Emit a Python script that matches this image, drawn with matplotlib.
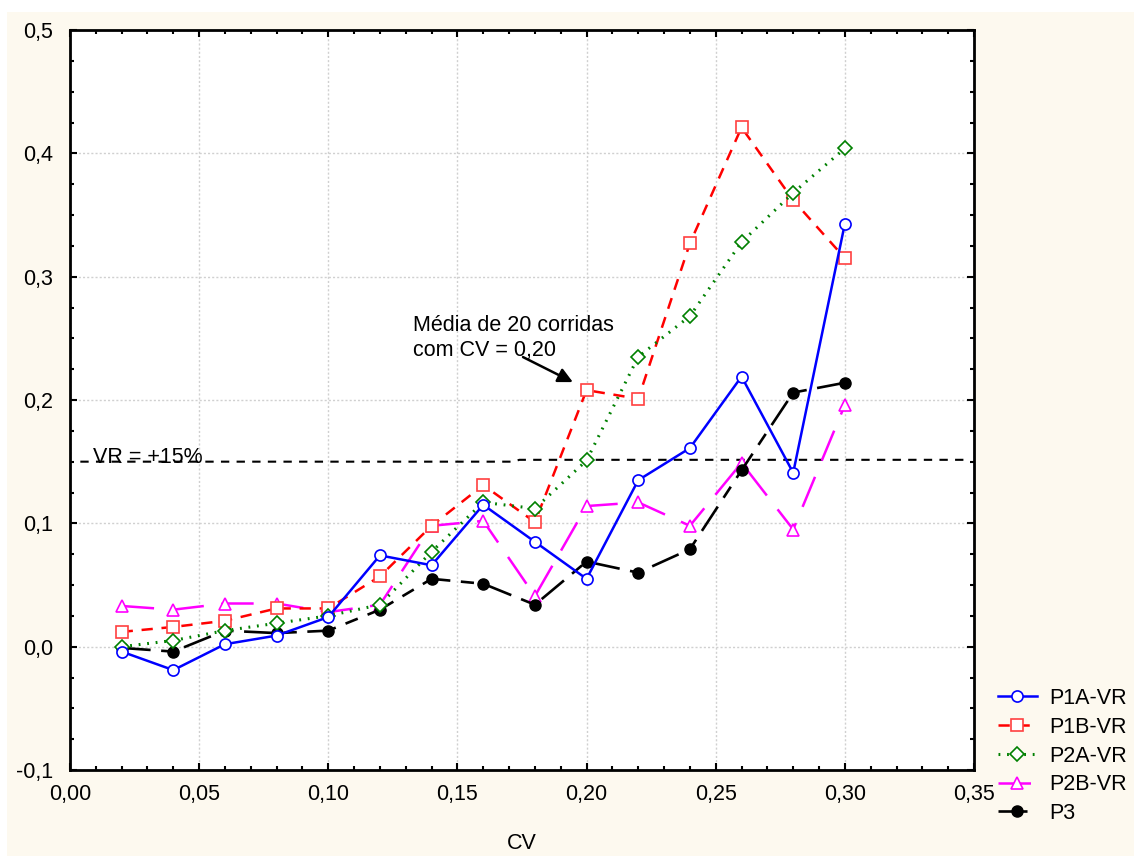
import matplotlib
matplotlib.use("Agg")
import matplotlib.pyplot as plt
from matplotlib.patches import Rectangle
from matplotlib.ticker import MultipleLocator, FuncFormatter

plt.rcParams['font.family'] = ['Liberation Sans', 'DejaVu Sans']

cv = [0.02, 0.04, 0.06, 0.08, 0.10, 0.12, 0.14, 0.16, 0.18, 0.20, 0.22, 0.24, 0.26, 0.28, 0.30]
p1a = [-0.004, -0.019, 0.002, 0.009, 0.024, 0.074, 0.066, 0.115, 0.085, 0.055, 0.135, 0.161, 0.219, 0.141, 0.343]
p1b = [0.012, 0.016, 0.021, 0.031, 0.031, 0.057, 0.098, 0.131, 0.101, 0.208, 0.201, 0.327, 0.421, 0.362, 0.315]
p2a = [0.000, 0.005, 0.013, 0.019, 0.025, 0.034, 0.077, 0.117, 0.112, 0.151, 0.235, 0.268, 0.328, 0.368, 0.404]
p2b = [0.033, 0.030, 0.035, 0.035, 0.028, 0.034, 0.098, 0.102, 0.041, 0.114, 0.117, 0.098, 0.149, 0.095, 0.196]
p3 = [-0.001, -0.004, 0.013, 0.011, 0.013, 0.030, 0.055, 0.051, 0.034, 0.069, 0.060, 0.079, 0.143, 0.206, 0.214]

vr_x = [0.004, 0.1715, 0.174, 0.348]
vr_y = [0.150, 0.150, 0.1515, 0.1515]

labels = ["P1A-VR", "P1B-VR", "P2A-VR", "P2B-VR", "P3"]

W, H = 1134, 856
fig = plt.figure(figsize=(W / 100, H / 100), dpi=100, facecolor='white')
cream = '#FDF9EF'
fig.patches.append(Rectangle((7 / W, 0), 1 - 7 / W, 1 - 12 / H, transform=fig.transFigure,
                             facecolor=cream, edgecolor='none', zorder=-10))

ax = fig.add_axes([70 / W, 1 - 770 / H, (974 - 70) / W, (770 - 30) / H])
ax.set_facecolor('white')

fs = 15.5
ax.plot(cv, p1a, color='#0000FF', lw=1.8, marker='o', ms=8, mfc='white', mec='#0000FF',
        mew=1.2, label=labels[0], zorder=5)
ax.plot(cv, p1b, color='#FF0000', lw=1.8, ls=(0, (4.5, 3.5)), marker='s', ms=9, mfc='white',
        mec='#FF4040', mew=1.2, label=labels[1], zorder=4)
ax.plot(cv, p2a, color='#008000', lw=2.2, ls=(0, (0.6, 2.2)), marker='D', ms=7, mfc='white',
        mec='#008000', mew=1.2, label=labels[2], zorder=4)
ax.plot(cv, p2b, color='#FF00FF', lw=1.8, ls=(0, (13, 7)), marker='^', ms=9, mfc='white',
        mec='#FF00FF', mew=1.2, label=labels[3], zorder=3)
ax.plot(cv, p3, color='black', lw=1.9, ls=(0, (11, 4, 5, 4)), marker='o', ms=8, mfc='black',
        mec='black', label=labels[4], zorder=3)

ax.plot(vr_x, vr_y, color='black', lw=1.5, ls=(0, (4, 3.5)), zorder=2)
ax.text(0.0089, 0.153, "VR = +15%", fontsize=fs, va='center', ha='left', zorder=6)

ax.annotate("", xy=(0.1947, 0.2145), xytext=(0.1754, 0.2348),
            arrowprops=dict(arrowstyle='-|>', color='black', lw=1.8, mutation_scale=22,
                            shrinkA=0, shrinkB=0), zorder=6)
ax.text(0.1328, 0.2502, "Média de 20 corridas\ncom CV = 0,20", fontsize=fs, va='center',
        ha='left', linespacing=1.2, zorder=6)

ax.set_xlim(0, 0.35)
ax.set_ylim(-0.1, 0.5)
ax.xaxis.set_major_locator(MultipleLocator(0.05))
ax.xaxis.set_minor_locator(MultipleLocator(0.01))
ax.yaxis.set_major_locator(MultipleLocator(0.1))
ax.yaxis.set_minor_locator(MultipleLocator(0.025))
ax.xaxis.set_major_formatter(FuncFormatter(lambda v, p: f"{v:.2f}".replace('.', ',')))
ax.yaxis.set_major_formatter(FuncFormatter(lambda v, p: f"{v:.1f}".replace('.', ',').replace('-0,0', '0,0')))
ax.tick_params(which='both', direction='in', top=True, right=True, width=1.5, labelsize=fs)
ax.tick_params(which='major', length=5)
ax.tick_params(which='minor', length=3)
ax.tick_params(axis='x', pad=10)
ax.tick_params(axis='y', pad=12)
ax.grid(True, which='major', color='#D0D0D0', ls=(0, (1.5, 1.5)), lw=1)
ax.set_axisbelow(True)
for s in ax.spines.values():
    s.set_linewidth(2)
ax.set_xlabel("CV", fontsize=fs, labelpad=20)

fig.legend(loc='upper left', bbox_to_anchor=(998 / W, 1 - 688 / H), frameon=False, fontsize=fs,
           handlelength=1.8, handletextpad=0.6, labelspacing=0.36, borderpad=0, borderaxespad=0)

fig.savefig("out.png", dpi=100, facecolor=fig.get_facecolor())
